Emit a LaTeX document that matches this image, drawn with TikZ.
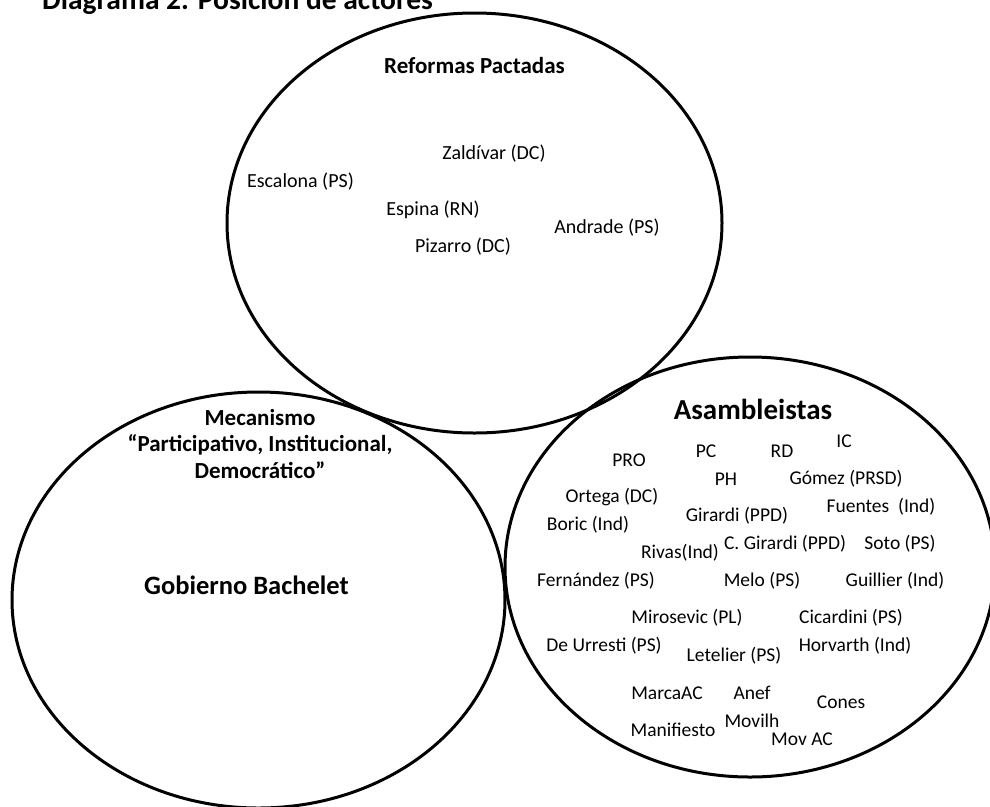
\documentclass[tikz,border=0pt]{standalone}
\usepackage{fontspec}
\setmainfont{Carlito}
\begin{document}
\begin{tikzpicture}[x=1pt,y=-1pt,
  ring/.style={line width=3pt},
  actor/.style={inner sep=0pt,font=\fontsize{19.5}{23}\selectfont},
  topactor/.style={inner sep=0pt,font=\fontsize{20}{24}\selectfont},
  head/.style={inner sep=0pt,font=\bfseries\fontsize{23}{26.5}\selectfont,align=center},
  big/.style={inner sep=0pt,font=\bfseries\fontsize{26.5}{30}\selectfont}]
\useasboundingbox (0,0) rectangle (990,806);
\fill[white] (0,0) rectangle (990,806);
% title
\node[anchor=base west,inner sep=0pt,font=\bfseries\fontsize{29.5}{34}\selectfont] (title) at (42,9) {Diagrama 2. Posición de actores};
% ellipses
\draw[ring] (474.5,223) ellipse [x radius=247.5, y radius=210];
\draw[ring] (258.5,600) ellipse [x radius=246.5, y radius=208];
\draw[ring] (750,567) ellipse [x radius=245, y radius=210];
% top
\node[head] (rp) at (474.5,66) {Reformas Pactadas};
\node[topactor] (zal) at (494,154) {Zaldívar (DC)};
\node[topactor] (esc) at (300.5,182) {Escalona (PS)};
\node[topactor] (esp) at (433,210) {Espina (RN)};
\node[topactor] (and) at (607,228) {Andrade (PS)};
\node[topactor] (piz) at (463,247) {Pizarro (DC)};
% left
\node[head] (mec) at (260,444) {Mecanismo\\“Participativo, Institucional,\\Democrático”};
\node[big] (gob) at (246.5,585) {Gobierno Bachelet};
% right
\node[inner sep=0pt,font=\bfseries\fontsize{29}{32}\selectfont] (asa) at (753,409) {Asambleistas};
\node[actor] (pro) at (629,460) {PRO};
\node[actor] (pc) at (706,451) {PC};
\node[actor] (rd) at (782,451) {RD};
\node[actor] (ic) at (844,441) {IC};
\node[actor] (ph) at (726,479) {PH};
\node[actor] (gom) at (846,479) {Gómez (PRSD)};
\node[actor] (ort) at (612,497) {Ortega (DC)};
\node[actor] (fue) at (881,507) {Fuentes\ \ (Ind)};
\node[actor] (gir) at (737,516) {Girardi (PPD)};
\node[actor] (bor) at (588,525) {Boric (Ind)};
\node[actor] (cgi) at (785,544) {C. Girardi (PPD)};
\node[actor] (sot) at (900,544) {Soto (PS)};
\node[actor] (riv) at (680,553) {Rivas(Ind)};
\node[actor] (fer) at (596,581) {Fernández (PS)};
\node[actor] (mel) at (762,581) {Melo (PS)};
\node[actor] (gui) at (895,581) {Guillier (Ind)};
\node[actor] (mir) at (687,618) {Mirosevic (PL)};
\node[actor] (cic) at (851,618) {Cicardini (PS)};
\node[actor] (deu) at (604,646) {De Urresti (PS)};
\node[actor] (hor) at (855,646) {Horvarth (Ind)};
\node[actor] (let) at (734,656) {Letelier (PS)};
\node[actor] (mac) at (667,693) {MarcaAC};
\node[actor] (ane) at (752,693) {Anef};
\node[actor] (con) at (841,702) {Cones};
\node[actor] (mov) at (752,721) {Movilh};
\node[actor] (man) at (673,730) {Manifiesto};
\node[actor] (mac2) at (802,739) {Mov AC};
\end{tikzpicture}
\end{document}
